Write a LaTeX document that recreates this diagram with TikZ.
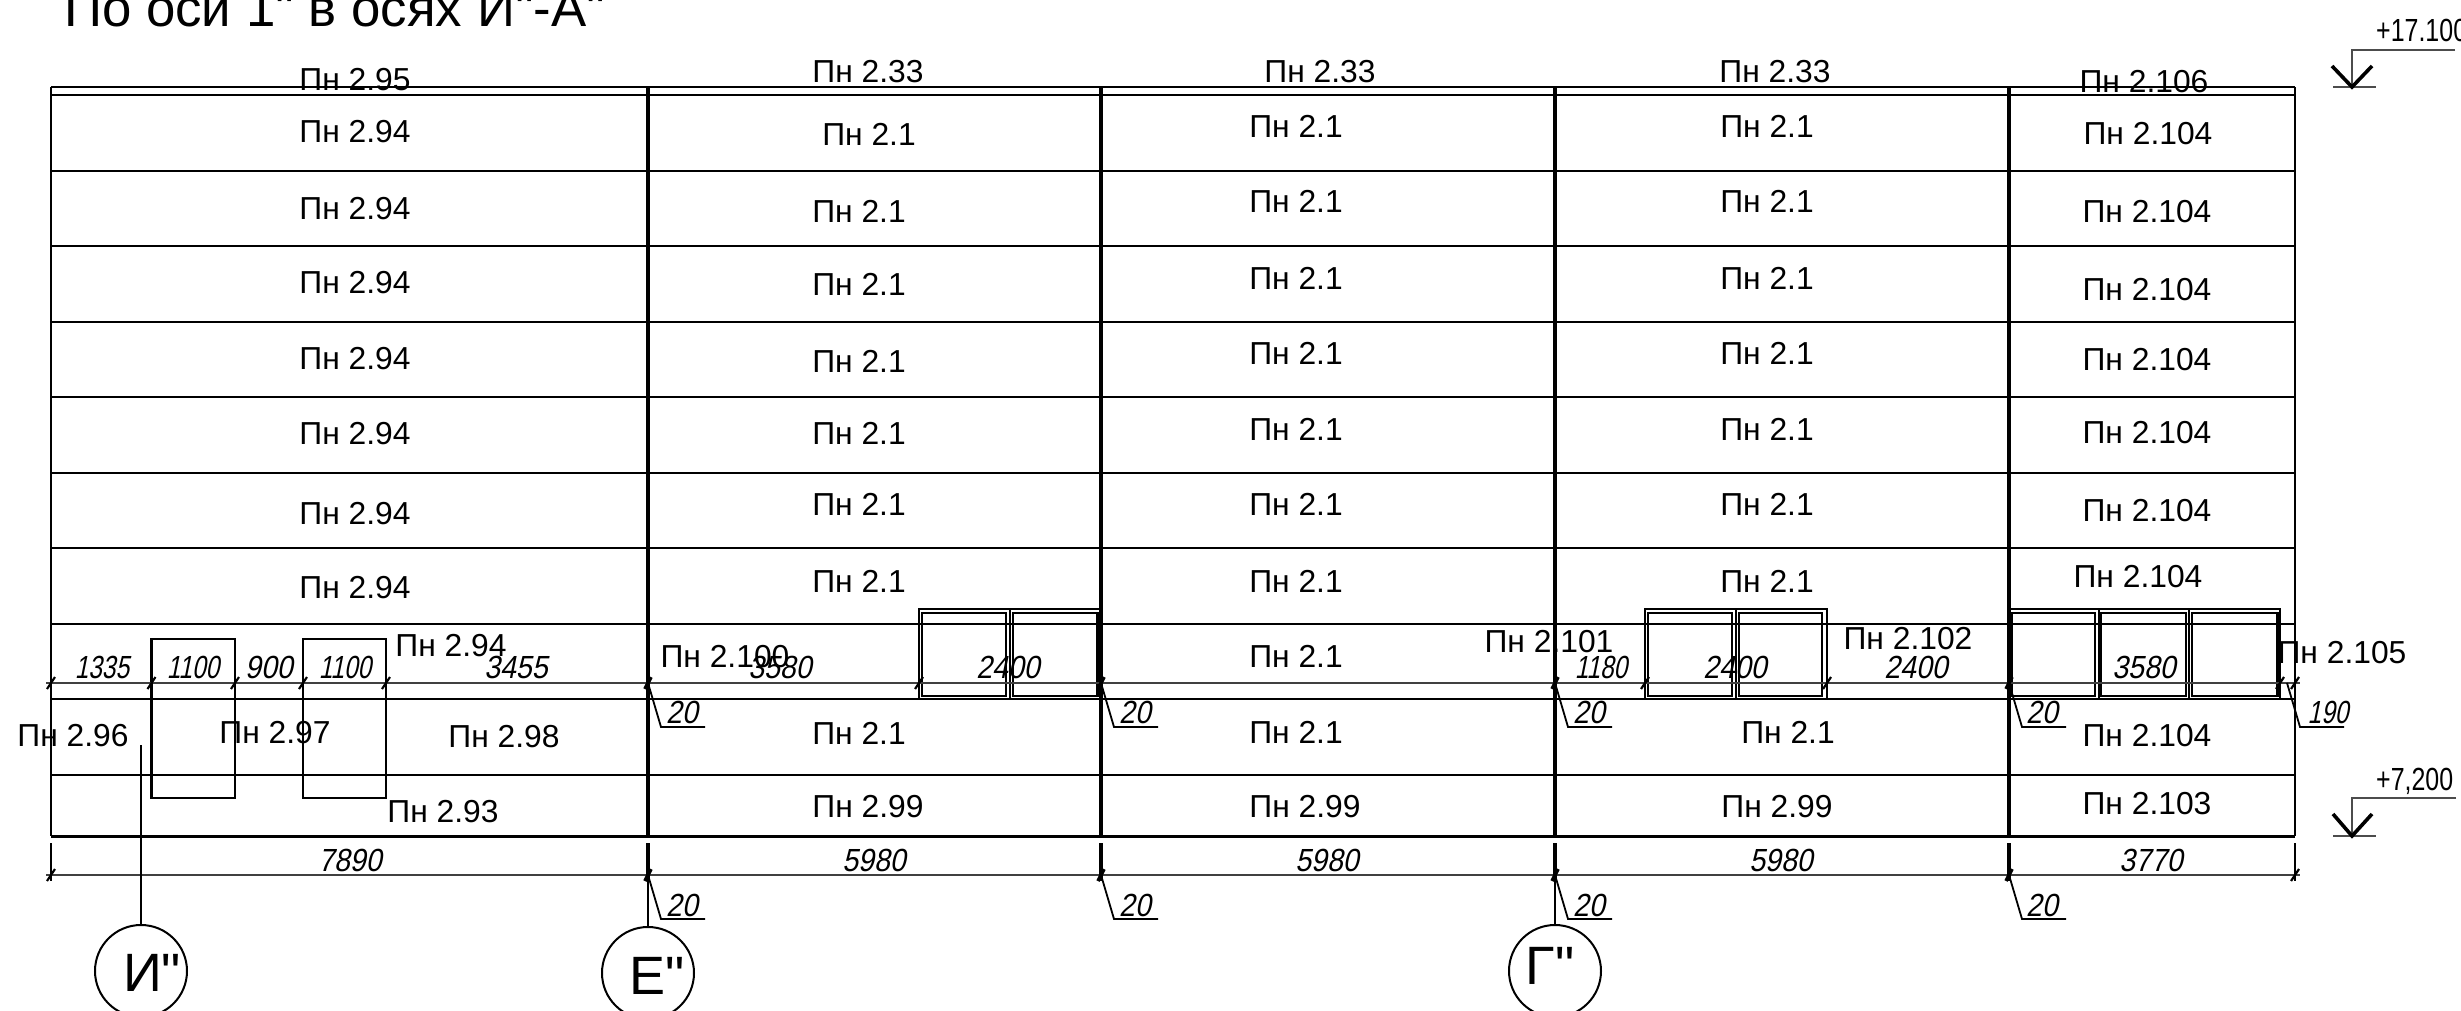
\documentclass[tikz,border=0pt]{standalone}
\usepackage{fontspec}
\setmainfont{Liberation Sans}
\newfontfamily\plainq{Liberation Sans}
\newfontfamily\dimfont[FakeSlant=0.2,FakeStretch=0.89]{Liberation Sans}
\newfontfamily\dimnarrow[FakeSlant=0.2,FakeStretch=0.76]{Liberation Sans}
\newfontfamily\lvlfont[FakeStretch=0.78]{Liberation Sans}
\newcounter{lblcnt}
\newcommand{\qq}{{\plainq\symbol{34}}}
\newcommand{\lb}[3]{\stepcounter{lblcnt}\node[panel] (p\arabic{lblcnt}) at (#1,#2) {#3};}
\newcommand{\dm}[3]{\stepcounter{lblcnt}\node[dimtext] (p\arabic{lblcnt}) at (#1,#2) {#3};}
\newcommand{\dn}[3]{\stepcounter{lblcnt}\node[dimtextn] (p\arabic{lblcnt}) at (#1,#2) {#3};}
\newcommand{\tickmark}[2]{\draw[ticks] (#1-4,#2+6) -- (#1+4,#2-6);}
\newcommand{\leader}[2]{\draw[dimthin] (#1,#2) -- ++(13,44) -- ++(44,0);}
\newcommand{\winrect}[4]{\draw[win] (#1,#3) rectangle (#2,#4);}
\tikzset{
  panel/.style={anchor=base,inner sep=0pt,font=\fontsize{31.8}{38}\selectfont},
  dimtext/.style={anchor=base,inner sep=0pt,font=\dimfont\fontsize{32}{38}\selectfont},
  dimtextn/.style={anchor=base,inner sep=0pt,font=\dimnarrow\fontsize{32}{38}\selectfont},
  lvltext/.style={anchor=base west,inner sep=0pt,font=\lvlfont\fontsize{32}{38}\selectfont},
  axislbl/.style={anchor=base,inner sep=0pt,font=\fontsize{54}{60}\selectfont},
  titletext/.style={anchor=base west,inner sep=0pt,font=\fontsize{52.8}{60}\selectfont},
  floorline/.style={line width=2.4pt},
  colline/.style={line width=3.4pt},
  edgeline/.style={line width=2.6pt},
  win/.style={line width=2.1pt},
  dimline/.style={line width=2.2pt,black!75},
  dimthin/.style={line width=1.8pt},
  ticks/.style={line width=2.2pt},
  colticks/.style={line width=3.6pt},
  extline/.style={line width=2pt},
  colext/.style={line width=3.4pt},
  axisbub/.style={circle,draw,line width=2pt,minimum size=92pt,inner sep=0pt},
  vmark/.style={line width=3.6pt},
  lvlline/.style={line width=1.6pt,black!70}
}
\begin{document}
\begin{tikzpicture}[x=1pt,y=-1pt]
\useasboundingbox (0,0) rectangle (2461,1011);
% floors
\foreach \yy in {87,95,171,246,322,397,473,548,624,699,775} \draw[floorline] (51,\yy) -- (2295,\yy);
\draw[line width=3pt] (51,836) -- (2295,836);
% columns
\draw[edgeline] (51,87) -- (51,836);
\draw[edgeline] (2295,87) -- (2295,836);
\foreach \xx in {648,1101,1555,2009} \draw[colline] (\xx,87) -- (\xx,836);
% single windows
\winrect{151.5}{235}{639}{798}
\winrect{303}{386}{639}{798}
% double windows
\winrect{919}{1010}{609}{699}\winrect{1010}{1101}{609}{699}
\winrect{922}{1006}{613}{696}\winrect{1013}{1097.5}{613}{696}
\winrect{1645}{1736}{609}{699}\winrect{1736}{1827}{609}{699}
\winrect{1648}{1732}{613}{696}\winrect{1739}{1822}{613}{696}
\winrect{2009}{2099}{609}{699}\winrect{2099}{2189}{609}{699}\winrect{2189}{2280}{609}{699}
\winrect{2011.5}{2095}{613}{696}\winrect{2101}{2186}{613}{696}\winrect{2192}{2277.5}{613}{696}
% dimension lines
\draw[dimline] (46,683) -- (2300,683);
\draw[dimline] (46,875) -- (2300,875);
\foreach \xx in {51,151.5,235,303,386,919,1645,1827,2280,2295} {
  \draw[extline] (\xx,663) -- (\xx,689);
  \tickmark{\xx}{683}
}
\foreach \xx in {51,2295} {
  \draw[extline] (\xx,843) -- (\xx,881);
  \tickmark{\xx}{875}
}
\foreach \xx in {648,1101,1555,2009} {
  \draw[colticks] (\xx-3,689) -- (\xx+3,677);
  \draw[colext] (\xx,843) -- (\xx,881);
  \draw[colticks] (\xx-3,881) -- (\xx+3,869);
  \leader{\xx}{683}
  \leader{\xx}{875}
}
\leader{2287}{683}
% axis bubbles
\node[axisbub] (bubI) at (141,971) {};
\node[axisbub] (bubE) at (648,973) {};
\node[axisbub] (bubG) at (1555,971) {};
\coordinate (axI) at (141,745);
\coordinate (axE) at (648,881);
\coordinate (axG) at (1555,881);
\draw[extline] (axI) -- (bubI.north);
\draw[extline] (axE) -- (bubE.north);
\draw[extline] (axG) -- (bubG.north);
\node[axislbl] (lblI) at (152,991) {И\qq};
\node[axislbl] (lblE) at (657,994) {Е\qq};
\node[axislbl] (lblG) at (1550,984) {Г\qq};
% title
\node[titletext] (title) at (64,27) {По оси 1\qq{} в осях И\qq-А\qq};
% column 1
\lb{355}{91}{Пн 2.95}
\foreach \yy in {143,220,294,369,444,524,598} {\lb{355}{\yy}{Пн 2.94}}
\lb{451}{656}{Пн 2.94}
\lb{73}{746}{Пн 2.96}
\lb{275}{743}{Пн 2.97}
\lb{504}{747}{Пн 2.98}
\lb{443}{822}{Пн 2.93}
% column 2
\lb{868}{83}{Пн 2.33}
\lb{869}{146}{Пн 2.1}
\foreach \yy in {223,295,372,444,515,592,744} {\lb{859}{\yy}{Пн 2.1}}
\lb{725}{667}{Пн 2.100}
\lb{868}{817}{Пн 2.99}
% column 3
\lb{1320}{83}{Пн 2.33}
\foreach \yy in {138,213,289,364,440,515,592,667,743} {\lb{1296}{\yy}{Пн 2.1}}
\lb{1305}{817}{Пн 2.99}
% column 4
\lb{1775}{83}{Пн 2.33}
\foreach \yy in {138,213,289,364,440,515,592} {\lb{1767}{\yy}{Пн 2.1}}
\lb{1549}{652}{Пн 2.101}
\lb{1908}{649}{Пн 2.102}
\lb{1788}{743}{Пн 2.1}
\lb{1777}{817}{Пн 2.99}
% column 5
\lb{2144}{93}{Пн 2.106}
\lb{2148}{145}{Пн 2.104}
\foreach \yy in {223,300,370,443,521} {\lb{2147}{\yy}{Пн 2.104}}
\lb{2138}{587}{Пн 2.104}
\lb{2342}{663}{Пн 2.105}
\lb{2147}{746}{Пн 2.104}
\lb{2147}{814}{Пн 2.103}
% upper dimensions
\dn{102}{678}{1335}
\dn{193}{678}{1100}
\dm{269}{678}{900}
\dn{345}{678}{1100}
\dm{516}{678}{3455}
\dm{780}{678}{3580}
\dm{1008}{678}{2400}
\dn{1601}{678}{1180}
\dm{1735}{678}{2400}
\dm{1916}{678}{2400}
\dm{2144}{678}{3580}
% leader values
\foreach \xx in {682,1135,1589,2042} {\dm{\xx}{723}{20}\dm{\xx}{916}{20}}
\dn{2328}{723}{190}
% lower dimensions
\dm{350}{871}{7890}
\dm{874}{871}{5980}
\dm{1327}{871}{5980}
\dm{1781}{871}{5980}
\dm{2151}{871}{3770}
% level marks
\draw[lvlline] (2455,50) -- (2352,50) -- (2352,87);
\draw[lvlline] (2333,87) -- (2376,87);
\draw[vmark] (2332,66) -- (2352,87) -- (2372,66);
\node[lvltext] (lvlA) at (2376,42) {+17.100};
\draw[lvlline] (2456,798) -- (2352,798) -- (2352,836);
\draw[lvlline] (2333,836) -- (2376,836);
\draw[vmark] (2333,814) -- (2352,836) -- (2372,814);
\node[lvltext] (lvlB) at (2376,790) {+7,200};
\end{tikzpicture}
\end{document}
